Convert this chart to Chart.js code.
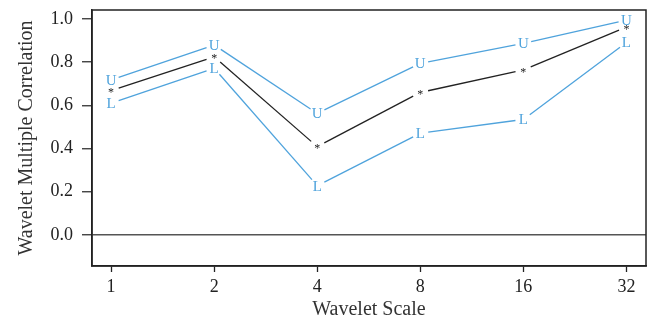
<!DOCTYPE html>
<html>
<head>
<meta charset="utf-8">
<script src="https://cdn.jsdelivr.net/npm/chart.js@4/dist/chart.umd.min.js"></script>
<style>
  html, body { margin: 0; padding: 0; background: #fff; }
</style>
</head>
<body>
<canvas id="chart" width="651" height="321"></canvas>
<script>
// wavelet scales (shown as tick labels) and the three series
const scales = ['1', '2', '4', '8', '16', '32'];
const xPos = [0, 1, 2, 3, 4, 5];
const upper = [0.718, 0.880, 0.563, 0.795, 0.887, 0.995];
const estimate = [0.668, 0.825, 0.409, 0.660, 0.764, 0.963];
const lower = [0.610, 0.772, 0.228, 0.471, 0.535, 0.892];
const yTicks = [0.0, 0.2, 0.4, 0.6, 0.8, 1.0];

const blue = '#4fa3dc';
const dark = '#222222';
const serif = '"Liberation Serif", "DejaVu Serif", serif';

const toXY = arr => arr.map((v, i) => ({ x: xPos[i], y: v }));

// draws R style type="b" lines: glyph at each point, line segments with gaps
const glyphLines = {
  id: 'glyphLines',
  afterDatasetsDraw(chart) {
    const ctx = chart.ctx;
    const gap = 8;
    ctx.save();
    chart.data.datasets.forEach((ds, di) => {
      const pts = chart.getDatasetMeta(di).data;
      ctx.strokeStyle = ds.borderColor;
      ctx.lineWidth = 1.3;
      for (let i = 0; i < pts.length - 1; i++) {
        const a = pts[i], b = pts[i + 1];
        const dx = b.x - a.x, dy = b.y - a.y;
        const len = Math.hypot(dx, dy);
        const ux = dx / len, uy = dy / len;
        ctx.beginPath();
        ctx.moveTo(a.x + ux * gap, a.y + uy * gap);
        ctx.lineTo(b.x - ux * gap, b.y - uy * gap);
        ctx.stroke();
      }
      ctx.fillStyle = ds.glyphColor;
      ctx.font = ds.glyphSize + 'px ' + serif;
      ctx.textAlign = 'center';
      ctx.textBaseline = 'alphabetic';
      const m = ctx.measureText(ds.glyph);
      const off = (m.actualBoundingBoxAscent - m.actualBoundingBoxDescent) / 2;
      pts.forEach(p => ctx.fillText(ds.glyph, p.x, p.y + off));
    });
    ctx.restore();
  }
};

// full box round the plot area
const frame = {
  id: 'frame',
  afterDraw(chart) {
    const a = chart.chartArea;
    const ctx = chart.ctx;
    ctx.save();
    ctx.strokeStyle = dark;
    ctx.lineWidth = 1.5;
    ctx.strokeRect(a.left, a.top, a.right - a.left, a.bottom - a.top);
    ctx.restore();
  }
};

new Chart(document.getElementById('chart'), {
  type: 'scatter',
  data: {
    datasets: [
      { label: 'U', data: toXY(upper), glyph: 'U', glyphSize: 15, glyphColor: blue, borderColor: blue, pointRadius: 0, showLine: false },
      { label: 'est', data: toXY(estimate), glyph: '*', glyphSize: 12, glyphColor: dark, borderColor: dark, pointRadius: 0, showLine: false },
      { label: 'L', data: toXY(lower), glyph: 'L', glyphSize: 15, glyphColor: blue, borderColor: blue, pointRadius: 0, showLine: false }
    ]
  },
  options: {
    responsive: false,
    animation: false,
    events: [],
    layout: { padding: { top: 10, right: 5, left: 0, bottom: 0 } },
    plugins: { legend: { display: false }, tooltip: { enabled: false } },
    scales: {
      x: {
        type: 'linear',
        min: -0.185,
        max: 5.19,
        afterBuildTicks: s => { s.ticks = xPos.map(v => ({ value: v })); },
        afterFit: s => { s.height = 55; s.paddingLeft = 0; s.paddingRight = 0; },
        ticks: {
          color: dark,
          font: { family: serif, size: 18 },
          padding: 4,
          callback: v => scales[v]
        },
        grid: { drawOnChartArea: false, drawTicks: true, tickLength: 6, tickColor: dark, tickWidth: 1.3 },
        border: { display: true, color: dark, width: 1.5 },
        title: { display: true, text: 'Wavelet Scale', color: '#333', font: { family: serif, size: 20, lineHeight: 1 }, padding: { top: 0, bottom: 1 } }
      },
      y: {
        min: -0.144,
        max: 1.042,
        afterBuildTicks: s => { s.ticks = yTicks.map(v => ({ value: v })); },
        afterFit: s => { s.width = 92; s.paddingTop = 0; s.paddingBottom = 0; },
        ticks: {
          color: dark,
          font: { family: serif, size: 18 },
          padding: 9,
          callback: v => v.toFixed(1)
        },
        grid: {
          drawOnChartArea: true,
          drawTicks: true,
          tickLength: 10,
          tickColor: '#333',
          tickWidth: 1.3,
          color: c => (c.tick && c.tick.value === 0 ? '#555' : 'rgba(0,0,0,0)'),
          lineWidth: 1.5
        },
        border: { display: true, color: dark, width: 1.5 },
        title: { display: true, text: 'Wavelet Multiple Correlation', color: '#333', font: { family: serif, size: 20 }, padding: { top: 15, bottom: 0 } }
      }
    }
  },
  plugins: [glyphLines, frame]
});
</script>
</body>
</html>
